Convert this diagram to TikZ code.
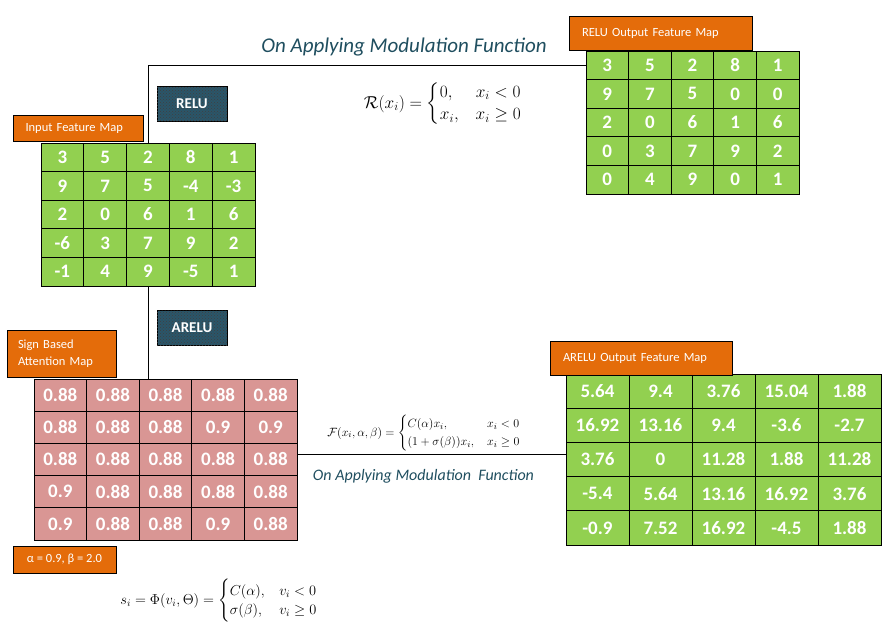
\documentclass[tikz,border=0pt]{standalone}
\usepackage{amsmath}
\usepackage[no-math]{fontspec}
\setmainfont{Carlito}
\usetikzlibrary{patterns}
\definecolor{mapgreen}{HTML}{92D050}
\definecolor{mappink}{HTML}{D99694}
\definecolor{taborange}{HTML}{E46C0A}
\definecolor{actblue}{HTML}{2A566A}
\definecolor{titleblue}{HTML}{1F4E5F}
\begin{document}
\begin{tikzpicture}[x=1pt, y=-1pt,
    cell/.style={draw, line width=1pt, inner sep=0pt, text=white, font=\fontsize{19}{19}\selectfont\bfseries},
    tab/.style={draw, line width=1pt, fill=taborange, text=white, inner sep=0pt, font=\fontsize{12.5}{17.5}\selectfont},
    act/.style={draw, line width=1pt, fill=actblue, postaction={pattern=crosshatch dots, pattern color=black!75}, text=white, font=\fontsize{15}{15}\selectfont\bfseries, minimum width=70pt, minimum height=35pt},
    wire/.style={line width=0.9pt}]
    \useasboundingbox (0,0) rectangle (896,632);
    % \draw (0, 0) grid (896,632);
    % feature maps
    \foreach \row [count=\r] in {{3,5,2,8,1},{9,7,5,-4,-3},{2,0,6,1,6},{-6,3,7,9,2},{-1,4,9,-5,1}}
        \foreach \v [count=\c] in \row
            \node[cell, fill=mapgreen, minimum width=42.8pt, minimum height=28.6pt, name=in_\r_\c] at (41+42.8*\c-21.4, 143+28.6*\r-14.3) {\v};
    \foreach \row [count=\r] in {{3,5,2,8,1},{9,7,5,0,0},{2,0,6,1,6},{0,3,7,9,2},{0,4,9,0,1}}
        \foreach \v [count=\c] in \row
            \node[cell, fill=mapgreen, minimum width=42.6pt, minimum height=28.6pt, name=rout_\r_\c] at (586+42.6*\c-21.3, 51+28.6*\r-14.3) {\v};
    \foreach \row [count=\r] in {{0.88,0.88,0.88,0.88,0.88},{0.88,0.88,0.88,0.9,0.9},{0.88,0.88,0.88,0.88,0.88},{0.9,0.88,0.88,0.88,0.88},{0.9,0.88,0.88,0.9,0.88}}
        \foreach \v [count=\c] in \row
            \node[cell, fill=mappink, minimum width=52.6pt, minimum height=32.2pt, name=att_\r_\c] at (34+52.6*\c-26.3, 379+32.2*\r-16.1) {\v};
    \foreach \row [count=\r] in {{5.64,9.4,3.76,15.04,1.88},{16.92,13.16,9.4,-3.6,-2.7},{3.76,0,11.28,1.88,11.28},{-5.4,5.64,13.16,16.92,3.76},{-0.9,7.52,16.92,-4.5,1.88}}
        \foreach \v [count=\c] in \row
            \node[cell, fill=mapgreen, minimum width=63pt, minimum height=34.2pt, name=arel_\r_\c] at (566+63*\c-31.5, 374+34.2*\r-17.1) {\v};
    % tabs
    \node[tab, minimum width=130pt, minimum height=26pt, text width=105pt, align=left, name=in_tab] at (78, 128) {Input Feature Map};
    \node[tab, minimum width=183pt, minimum height=34pt, text width=157pt, align=left, name=rout_tab] at (660.5, 33) {RELU Output Feature Map};
    \node[tab, minimum width=182pt, minimum height=34pt, text width=156pt, align=left, name=arel_tab] at (641, 358) {ARELU Output Feature Map};
    \node[tab, minimum width=109pt, minimum height=47pt, text width=87pt, align=left, name=att_tab] at (61.5, 353.5) {Sign Based\\Attention Map};
    \node[tab, minimum width=103pt, minimum height=27pt, name=param_tab] at (64.5, 559.5) {α = 0.9, β = 2.0};
    \node[act, name=relu] at (192, 103.5) {RELU};
    \node[act, name=arelu] at (192, 328) {ARELU};
    % connectors
    \draw[wire] (in_1_3.north) |- (rout_1_1.west);
    \draw[wire] (in_5_3.south) -- (in_5_3.south |- att_1_1.north);
    \draw[wire] ([yshift=5pt]att_3_5.east) -- ([yshift=5pt]arel_3_1.west);
    % titles and formulas
    \node[font=\fontsize{21}{21}\selectfont\itshape, text=titleblue, name=top_title] at (404, 47) {On Applying Modulation Function};
    \node[font=\fontsize{16}{16}\selectfont\itshape, text=titleblue, name=low_title] at (423.5, 476) {On Applying Modulation\ \ Function};
    \node[inner sep=0pt, font=\fontsize{17}{19}\selectfont, name=relu_eq] at (443, 104) {$\mathcal{R}(x_i)=\begin{cases}0, & x_i<0\\ x_i, & x_i\geq 0\end{cases}$};
    \node[inner sep=0pt, font=\fontsize{13}{15}\selectfont, name=arelu_eq] at (424, 433) {$\mathcal{F}(x_i,\alpha,\beta)=\begin{cases}C(\alpha)x_i, & x_i<0\\ (1+\sigma(\beta))x_i, & x_i\geq 0\end{cases}$};
    \node[inner sep=0pt, font=\fontsize{14.5}{16}\selectfont, name=att_eq] at (219, 601) {$s_i=\Phi(v_i,\Theta)=\begin{cases}C(\alpha), & v_i<0\\ \sigma(\beta), & v_i\geq 0\end{cases}$};
\end{tikzpicture}
\end{document}
